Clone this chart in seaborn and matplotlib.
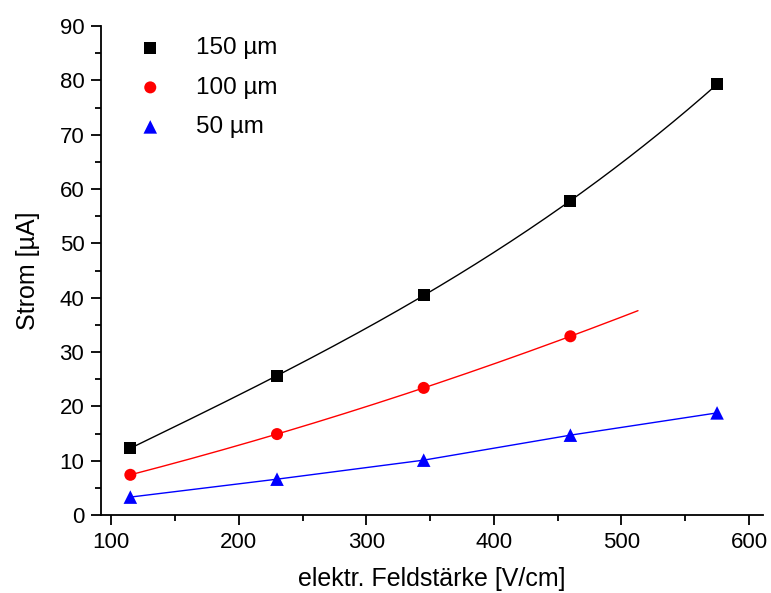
import numpy as np
import pandas as pd
import matplotlib
matplotlib.use("Agg")
import matplotlib.pyplot as plt
from matplotlib.ticker import MultipleLocator
import seaborn as sns

# Field strength [V/cm] and current [uA] per gap width
field = [115, 230, 345, 460, 575]
i_150 = [12.3, 25.6, 40.5, 57.8, 79.3]
field_100 = [115, 230, 345, 460]
i_100 = [7.4, 14.9, 23.4, 32.9]
i_50 = [3.3, 6.6, 10.1, 14.7, 18.8]

labels = ["150 µm", "100 µm", "50 µm"]
colors = ["black", "red", "blue"]
markers = ["s", "o", "^"]

sns.set_style("ticks")
plt.rcParams["font.family"] = ["Liberation Sans", "DejaVu Sans"]
plt.rcParams["text.color"] = "black"
plt.rcParams["axes.labelcolor"] = "black"
plt.rcParams["xtick.color"] = "black"
plt.rcParams["ytick.color"] = "black"

fig = plt.figure(figsize=(7.71, 5.93), dpi=100)
ax = fig.add_axes([0.131, 0.1315, 0.8586, 0.8245])

# fitted curves
x150 = np.linspace(field[0], field[-1], 200)
fit150 = np.polyval(np.polyfit(field, i_150, 3), x150)
x100 = np.linspace(field_100[0], 513, 200)
fit100 = np.polyval(np.polyfit(field_100, i_100, 2), x100)

sns.lineplot(x=x150, y=fit150, color="black", lw=1, ax=ax, legend=False)
sns.lineplot(x=x100, y=fit100, color="red", lw=1, ax=ax, legend=False)
sns.lineplot(x=field, y=i_50, color="blue", lw=1, ax=ax, legend=False)

series = [(field, i_150), (field_100, i_100), (field, i_50)]
for (xs, ys), lab, c, m in zip(series, labels, colors, markers):
    sz = 95 if m == "^" else 75
    sns.scatterplot(x=xs, y=ys, color=c, marker=m, s=sz, edgecolor="none",
                    ax=ax, label=lab, zorder=3)

ax.set_xlim(92, 611)
ax.set_ylim(0, 90)
ax.xaxis.set_major_locator(MultipleLocator(100))
ax.xaxis.set_minor_locator(MultipleLocator(50))
ax.yaxis.set_major_locator(MultipleLocator(10))
ax.yaxis.set_minor_locator(MultipleLocator(5))
ax.tick_params(which="major", direction="out", length=7, width=1.3, labelsize=16, pad=5)
ax.tick_params(which="minor", direction="out", length=4, width=1.3)
for s in ["top", "right"]:
    ax.spines[s].set_visible(False)
for s in ["left", "bottom"]:
    ax.spines[s].set_linewidth(1.3)
    ax.spines[s].set_color("black")

ax.set_xlabel("elektr. Feldstärke [V/cm]", fontsize=18, labelpad=10)
ax.set_ylabel("Strom [µA]", fontsize=18, labelpad=14)

ax.legend(loc="upper left", frameon=False, fontsize=17.5, handletextpad=0.9,
          labelspacing=0.72, bbox_to_anchor=(0.012, 1.012), scatterpoints=1,
          borderaxespad=0.3)

fig.savefig("out.png", dpi=100)
